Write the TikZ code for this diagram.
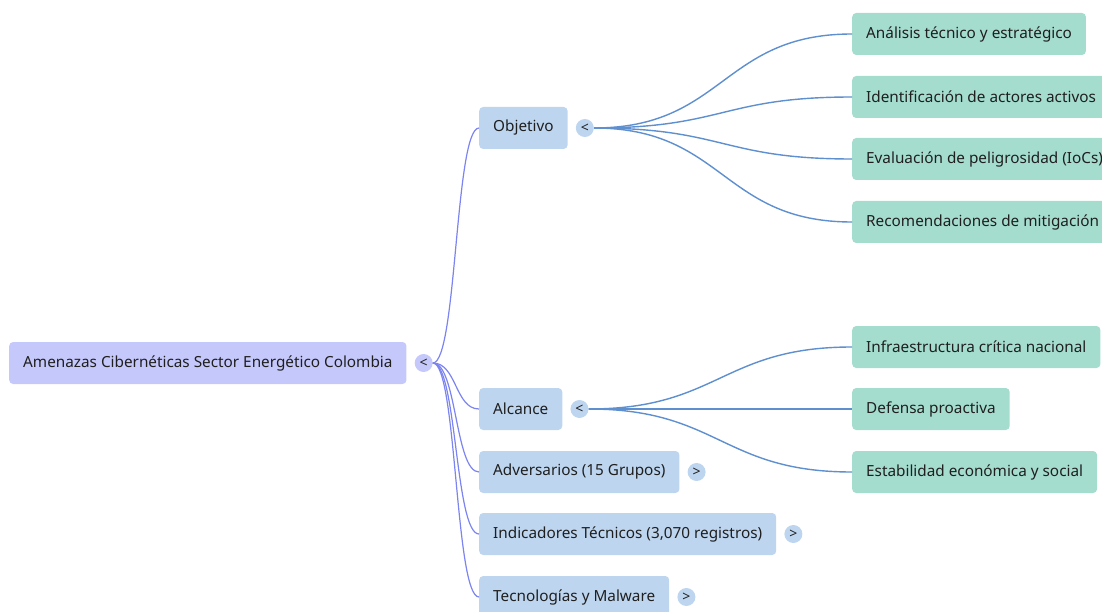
\documentclass[tikz,border=0pt]{standalone}
\usepackage{fontspec}
\setmainfont{Noto Sans}
\definecolor{rootc}{HTML}{C5C8FA}
\definecolor{lonec}{HTML}{BDD5EF}
\definecolor{ltwoc}{HTML}{A4DCCE}
\definecolor{rline}{HTML}{7C84F0}
\definecolor{bline}{HTML}{5E8FCF}
\definecolor{txt}{HTML}{1F1F1F}
\tikzset{
  base/.style={rounded corners=4pt, inner xsep=14pt, inner ysep=0pt, minimum height=42pt, anchor=west, text=txt, font=\fontsize{15.3}{18}\selectfont},
  rootbox/.style={base, fill=rootc},
  lonebox/.style={base, fill=lonec},
  ltwobox/.style={base, fill=ltwoc},
  tog/.style={circle, inner sep=0pt, minimum size=18pt, text=txt, font=\fontsize{14}{14}\selectfont\bfseries},
  rootlink/.style={draw=rline, line width=1.2pt},
  bluelink/.style={draw=bline, line width=1.4pt}
}
\begin{document}
\begin{tikzpicture}[x=1pt,y=-1pt]
\useasboundingbox (0,0) rectangle (1102,612);
\clip (0,0) rectangle (1102,612);
% root
\node[rootbox] (rt) at (9,363) {Amenazas Cibernéticas Sector Energético Colombia};
\node[tog, fill=rootc] (trt) at ([xshift=17pt]rt.east) {<};
% level 1
\node[lonebox] (obj) at (479,128) {Objetivo};
\node[lonebox] (alc) at (479,409) {Alcance};
\node[lonebox] (adv) at (479,472) {Adversarios (15 Grupos)};
\node[lonebox] (ind) at (479,534) {Indicadores Técnicos (3,070 registros)};
\node[lonebox] (tec) at (479,597) {Tecnologías y Malware};
\node[tog, fill=lonec] (tobj) at ([xshift=17pt]obj.east) {<};
\node[tog, fill=lonec] (talc) at ([xshift=17pt]alc.east) {<};
\node[tog, fill=lonec] (tadv) at ([xshift=17pt]adv.east) {>};
\node[tog, fill=lonec] (tind) at ([xshift=17pt]ind.east) {>};
\node[tog, fill=lonec] (ttec) at ([xshift=17pt]tec.east) {>};
% level 2
\node[ltwobox] (an) at (852,34) {Análisis técnico y estratégico};
\node[ltwobox] (id) at (852,97) {Identificación de actores activos};
\node[ltwobox] (ev) at (852,159) {Evaluación de peligrosidad (IoCs)};
\node[ltwobox] (re) at (852,222) {Recomendaciones de mitigación};
\node[ltwobox] (inf) at (852,347) {Infraestructura crítica nacional};
\node[ltwobox] (def) at (852,409) {Defensa proactiva};
\node[ltwobox] (est) at (852,472) {Estabilidad económica y social};
% root links
\foreach \t in {obj,alc,adv,ind,tec}
  \draw[rootlink] (trt.east) .. controls +(24,0) and +(-24,0) .. (\t.west);
% blue links
\foreach \t in {an,id,ev,re}
  \draw[bluelink] (tobj.east) .. controls +(130,0) and +(-130,0) .. (\t.west);
\foreach \t in {inf,def,est}
  \draw[bluelink] (talc.east) .. controls +(130,0) and +(-130,0) .. (\t.west);
\end{tikzpicture}
\end{document}
